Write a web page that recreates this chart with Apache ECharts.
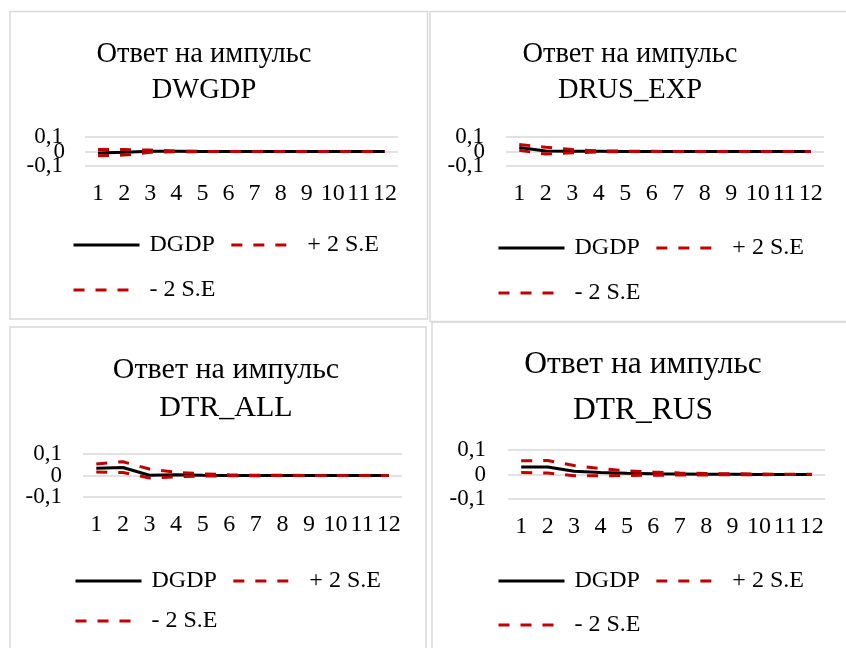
<!DOCTYPE html>
<html>
<head>
<meta charset="utf-8">
<script src="https://cdn.jsdelivr.net/npm/echarts@6/dist/echarts.min.js"></script>
<style>
html,body{margin:0;padding:0;background:#fff;}
#main{width:846px;height:648px;}
</style>
</head>
<body>
<div id="main"></div>
<script>
const categories = ['1','2','3','4','5','6','7','8','9','10','11','12'];
const yTicks = [-0.1, 0, 0.1];
const seriesNames = ['DGDP', '+ 2 S.E', '- 2 S.E'];
const panelTitles = ['Ответ на импульс\nDWGDP', 'Ответ на импульс\nDRUS_EXP', 'Ответ на импульс\nDTR_ALL', 'Ответ на импульс\nDTR_RUS'];

// Panel 1: DWGDP
const dwgdpResp  = [-0.010, -0.006, 0.002, 0.001, 0.000, 0.000, 0.000, 0.000, 0.000, 0.000, 0.000, 0.000];
const dwgdpUpper = [0.014, 0.013, 0.010, 0.003, 0.001, 0.000, 0.000, 0.000, 0.000, 0.000, 0.000, 0.000];
const dwgdpLower = [-0.030, -0.025, -0.006, -0.002, -0.001, 0.000, 0.000, 0.000, 0.000, 0.000, 0.000, 0.000];
// Panel 2: DRUS_EXP
const drusResp  = [0.027, 0.003, 0.002, 0.001, 0.000, 0.000, 0.000, 0.000, 0.000, 0.000, 0.000, 0.000];
const drusUpper = [0.048, 0.030, 0.013, 0.005, 0.002, 0.001, 0.000, 0.000, 0.000, 0.000, 0.000, 0.000];
const drusLower = [0.008, -0.018, -0.009, -0.003, -0.001, 0.000, 0.000, 0.000, 0.000, 0.000, 0.000, 0.000];
// Panel 3: DTR_ALL
const dtrAllResp  = [0.034, 0.037, 0.001, 0.003, 0.001, 0.000, 0.000, 0.000, 0.000, 0.000, 0.000, 0.000];
const dtrAllUpper = [0.054, 0.064, 0.030, 0.015, 0.008, 0.003, 0.001, 0.001, 0.000, 0.000, 0.000, 0.000];
const dtrAllLower = [0.016, 0.014, -0.012, -0.006, -0.003, -0.001, -0.001, 0.000, 0.000, 0.000, 0.000, 0.000];
// Panel 4: DTR_RUS
const dtrRusResp  = [0.031, 0.031, 0.013, 0.008, 0.005, 0.003, 0.002, 0.001, 0.001, 0.000, 0.000, 0.000];
const dtrRusUpper = [0.056, 0.057, 0.037, 0.024, 0.015, 0.010, 0.006, 0.004, 0.003, 0.002, 0.001, 0.001];
const dtrRusLower = [0.008, 0.006, -0.005, -0.005, -0.004, -0.003, -0.002, -0.002, -0.001, -0.001, 0.000, 0.000];

const panelData = [
  [dwgdpResp, dwgdpUpper, dwgdpLower],
  [drusResp, drusUpper, drusLower],
  [dtrAllResp, dtrAllUpper, dtrAllLower],
  [dtrRusResp, dtrRusUpper, dtrRusLower]
];

const FONT = 'Liberation Serif';
// layout (positions only)
const panels = [
  {box:[10,11.5,417.5,307.5], grid:{left:85,top:137,width:313,height:29}, ym:22, zm:20, title:{x:204,y:37,size:28.5,lh:36}, leg1:{x:72,y:233}, leg2:{x:72,y:278}},
  {box:[430,11.5,420,310], grid:{left:506,top:137,width:318,height:29}, ym:22, zm:21, title:{x:630,y:37,size:28.5,lh:36}, leg1:{x:497,y:236}, leg2:{x:497,y:281}},
  {box:[10,327,416,330], grid:{left:83,top:454,width:319,height:43}, ym:21, zm:21, title:{x:226,y:351,size:30,lh:38}, leg1:{x:74,y:569}, leg2:{x:74,y:609}},
  {box:[432,322,420,330], grid:{left:508,top:450,width:317,height:49}, ym:22, zm:22, title:{x:643,y:342,size:31.5,lh:46}, leg1:{x:497,y:569}, leg2:{x:497,y:613}}
];

const fmt = v => String(Math.round(v*10)/10).replace('.',',');
const chart = echarts.init(document.getElementById('main'), null, {renderer:'canvas'});
const option = {
  backgroundColor:'#fff',
  animation:false,
  textStyle:{fontFamily:FONT},
  title:[], legend:[], grid:[], xAxis:[], yAxis:[], series:[],
  graphic:[]
};
const lineStyles = [
  {color:'#000000', width:3, type:'solid'},
  {color:'#C00000', width:3, type:[11,11]},
  {color:'#C00000', width:3, type:[11,11]}
];
const zeroAxes = [];
panels.forEach((p,i)=>{
  option.graphic.push({type:'rect', shape:{x:p.box[0],y:p.box[1],width:p.box[2],height:p.box[3]}, style:{fill:'none', stroke:'#d9d9d9', lineWidth:1.5}, silent:true, z:-1});
  option.title.push({text:panelTitles[i], left:p.title.x, top:p.title.y, textAlign:'center', padding:0,
    textStyle:{fontFamily:FONT, fontSize:p.title.size, fontWeight:'normal', color:'#000', lineHeight:p.title.lh}});
  option.grid.push({left:p.grid.left, top:p.grid.top, width:p.grid.width, height:p.grid.height, containLabel:false});
  option.xAxis.push({type:'category', gridIndex:i, data:categories, boundaryGap:true,
    axisLine:{show:false, onZero:false}, axisTick:{show:false},
    axisLabel:{interval:0, margin:16, hideOverlap:false, fontFamily:FONT, fontSize:24, color:'#000'}, splitLine:{show:false}});
  // main axis: gridlines and the ±0,1 labels
  option.yAxis.push({type:'value', gridIndex:i, position:'left', min:yTicks[0], max:yTicks[yTicks.length-1], interval:0.1,
    axisLine:{show:false}, axisTick:{show:false},
    axisLabel:{margin:p.ym, hideOverlap:false, showMinLabel:true, showMaxLabel:true, fontFamily:FONT, fontSize:23, color:'#000',
      formatter:v=>(Math.abs(v) < 1e-9 ? '' : fmt(v))},
    splitLine:{show:true, lineStyle:{color:'#d9d9d9', width:1.5}}});
  // companion axis: only the 0 label
  zeroAxes.push({type:'value', gridIndex:i, position:'left', offset:0, min:yTicks[0], max:yTicks[yTicks.length-1], interval:0.1,
    axisLine:{show:false}, axisTick:{show:false}, splitLine:{show:false},
    axisLabel:{margin:p.zm, hideOverlap:false, showMinLabel:false, showMaxLabel:false, fontFamily:FONT, fontSize:23, color:'#000',
      formatter:v=>(Math.abs(v) < 1e-9 ? fmt(v) : '')}});
  panelData[i].forEach((arr,k)=>{
    option.series.push({name:seriesNames[k], type:'line', xAxisIndex:i, yAxisIndex:i, data:arr,
      symbol:'none', smooth:false, lineStyle:lineStyles[k], itemStyle:{color:lineStyles[k].color}, z:2+k});
  });
  const legCommon = {orient:'horizontal', itemWidth:66, itemHeight:14, itemGap:15, padding:0, selectedMode:false,
    itemStyle:{opacity:0}, lineStyle:{width:3},
    textStyle:{fontFamily:FONT, fontSize:24, color:'#000', padding:[0,0,0,5]}};
  option.legend.push(Object.assign({}, legCommon, {left:p.leg1.x, top:p.leg1.y, data:[seriesNames[0], seriesNames[1]]}));
  option.legend.push(Object.assign({}, legCommon, {left:p.leg2.x, top:p.leg2.y, data:[seriesNames[2]]}));
});
option.yAxis = option.yAxis.concat(zeroAxes);
chart.setOption(option);
</script>
</body>
</html>
